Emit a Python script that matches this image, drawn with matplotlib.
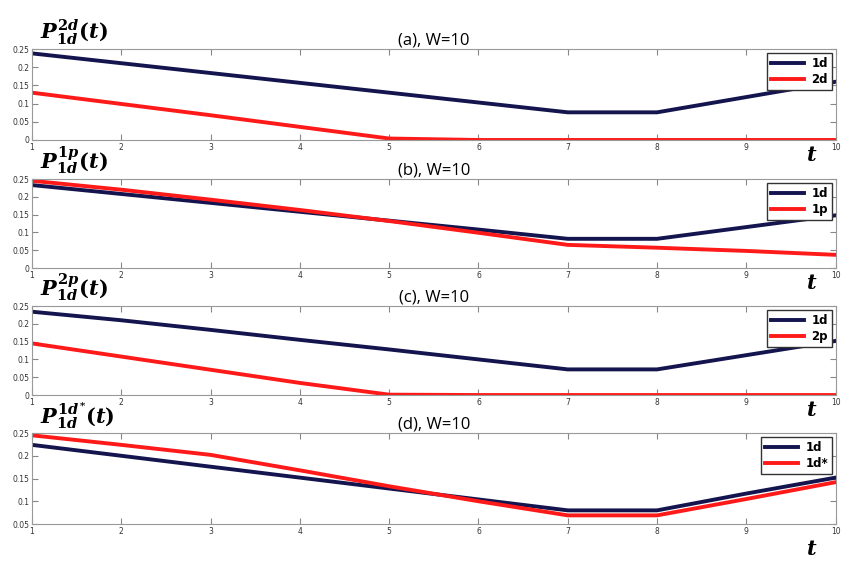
import numpy as np
import matplotlib.pyplot as plt

# time steps
t = [1, 2, 3, 4, 5, 6, 7, 8, 9, 10]

# (a) 1d vs 2d
a_1d = [0.238, 0.211, 0.184, 0.157, 0.130, 0.103, 0.076, 0.076, 0.118, 0.160]
a_2d = [0.130, 0.099, 0.068, 0.036, 0.004, 0.0, 0.0, 0.0, 0.0, 0.0]
# (b) 1d vs 1p
b_1d = [0.233, 0.208, 0.183, 0.158, 0.133, 0.108, 0.082, 0.082, 0.115, 0.148]
b_1p = [0.245, 0.220, 0.192, 0.163, 0.132, 0.099, 0.065, 0.057, 0.048, 0.037]
# (c) 1d vs 2p
c_1d = [0.234, 0.210, 0.183, 0.155, 0.128, 0.100, 0.072, 0.072, 0.112, 0.152]
c_2p = [0.145, 0.108, 0.071, 0.034, 0.001, 0.0, 0.0, 0.0, 0.0, 0.0]
# (d) 1d vs 1d*
d_1d = [0.224, 0.200, 0.176, 0.152, 0.128, 0.104, 0.080, 0.080, 0.117, 0.152]
d_1ds = [0.245, 0.224, 0.202, 0.168, 0.133, 0.100, 0.069, 0.069, 0.105, 0.142]

panels = [
    ('(a), W=10', r'$P_{1d}^{2d}(t)$', a_1d, a_2d, '2d', 0.0),
    ('(b), W=10', r'$P_{1d}^{1p}(t)$', b_1d, b_1p, '1p', 0.0),
    ('(c), W=10', r'$P_{1d}^{2p}(t)$', c_1d, c_2p, '2p', 0.0),
    ('(d), W=10', r'$P_{1d}^{1d^{*}}(t)$', d_1d, d_1ds, '1d*', 0.05),
]

plt.rcParams['mathtext.fontset'] = 'custom'
plt.rcParams['mathtext.it'] = 'DejaVu Serif:italic:bold'
plt.rcParams['mathtext.rm'] = 'DejaVu Serif:bold'

navy = '#14144f'
red = '#ff1a1a'

fig = plt.figure(figsize=(8.46, 5.64), dpi=100)
# axes boxes: bottom, height
boxes = [(0.7518, 0.1613), (0.5248, 0.1578), (0.2996, 0.1578), (0.0709, 0.1613)]
t_offsets = [-0.17, -0.17, -0.17, -0.28]

for (title, plabel, y1, y2, lab2, ymin), (bot, h), toff in zip(panels, boxes, t_offsets):
    ax = fig.add_axes([0.0378, bot, 0.950, h])
    ax.plot(t, y1, color=navy, lw=2.8, label='1d')
    ax.plot(t, y2, color=red, lw=2.8, label=lab2)
    ax.set_xlim(1, 10)
    ax.set_ylim(ymin, 0.25)
    ax.set_xticks(t)
    ax.set_yticks(np.arange(ymin, 0.2501, 0.05))
    ax.set_yticklabels(['%g' % round(v, 2) for v in np.arange(ymin, 0.2501, 0.05)])
    ax.tick_params(direction='in', top=True, right=True, labelsize=5.5,
                   length=4, color='#888888', labelcolor='#333333', pad=2)
    for s in ax.spines.values():
        s.set_color('#999999')
    ax.set_title(title, fontsize=12, family='Open Sans', pad=3)
    ax.text(0.01, 1.02, plabel, transform=ax.transAxes, fontsize=15,
            ha='left', va='bottom')
    ax.text(0.97, toff, r'$t$', transform=ax.transAxes, fontsize=15,
            ha='center', va='center')
    leg = ax.legend(loc='upper right', handlelength=2.8, handletextpad=0.6,
                    borderaxespad=0.3, borderpad=0.35, labelspacing=0.3,
                    fancybox=False, framealpha=1, edgecolor='#333333',
                    prop={'weight': 'bold', 'size': 8.5})

fig.savefig('out.png', dpi=100)
